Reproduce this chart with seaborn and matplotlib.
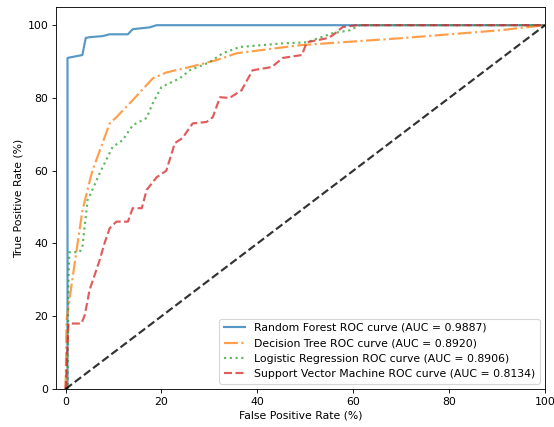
import matplotlib
matplotlib.use("Agg")
import matplotlib.pyplot as plt
import seaborn as sns
import pandas as pd

labels = [
    "Random Forest ROC curve (AUC = 0.9887)",
    "Decision Tree ROC curve (AUC = 0.8920)",
    "Logistic Regression ROC curve (AUC = 0.8906)",
    "Support Vector Machine ROC curve (AUC = 0.8134)",
]

rf_fpr = [0, 0.4, 0.4, 3.5, 4.2, 5, 7.7, 9.2, 13, 14, 17.5, 19, 100]
rf_tpr = [0, 0, 91, 91.8, 96.5, 96.7, 97, 97.5, 97.5, 98.9, 99.4, 100, 100]

dt_fpr = [0, 0.2, 1.9, 3.5, 5, 5.6, 9.2, 10.6, 14, 18.2, 21, 25.9, 31.5, 35.7, 48.9, 69.7, 90.6, 100]
dt_tpr = [0, 19, 34.6, 49, 57, 60, 73, 74.7, 79.4, 85.4, 87, 88.5, 90.4, 92.3, 94.5, 96.4, 98.6, 100]

lr_fpr = [0, 0.4, 0.6, 0.8, 2.9, 3.5, 4.6, 5, 7.1, 9.8, 11.9, 14, 16.9, 18.2, 20, 23.8, 25.9, 30,
          32.8, 36.3, 45.3, 50.3, 55.7, 59.3, 61.4, 100]
lr_tpr = [0, 0, 30.8, 37.6, 37.6, 39, 52, 53, 59.3, 66.5, 68.4, 72.5, 74.5, 78.6, 83, 85.4, 87.6, 89.8,
          92.3, 94, 95, 95.3, 97.8, 98.6, 100, 100]

svm_fpr = [0, 0.6, 3.3, 4, 5, 7.1, 8.1, 9.2, 10.6, 13, 14, 15.9, 16.9, 19, 21, 22.8, 24.4, 26.5, 29.4,
           30.7, 32.2, 34.2, 36.7, 39, 43, 45.3, 49.3, 50.3, 54.5, 55.7, 57.8, 60.8, 100]
svm_tpr = [0, 18, 18, 20.3, 27.2, 35.4, 40, 44.2, 46, 46, 49.7, 49.7, 54.7, 58.2, 60, 67.6, 69, 73, 73.4,
           74.7, 80.2, 80, 82.1, 87.6, 88.5, 91, 91.8, 95.3, 96.4, 97.2, 99.5, 100, 100]

diag = [0, 100]

DPI = 78
fig = plt.figure(figsize=(554 / DPI, 427 / DPI), dpi=DPI)
ax = fig.add_axes([56 / 554, 1 - 389 / 427, (545 - 56) / 554, (389 - 7) / 427])

series = [
    (rf_fpr, rf_tpr, "#1f77b4", "-"),
    (dt_fpr, dt_tpr, "#ff7f0e", "-."),
    (lr_fpr, lr_tpr, "#2ca02c", ":"),
    (svm_fpr, svm_tpr, "#d62728", "--"),
]
for (x, y, c, ls), lab in zip(series, labels):
    df = pd.DataFrame({"fpr": x, "tpr": y})
    sns.lineplot(data=df, x="fpr", y="tpr", sort=False, estimator=None, ax=ax,
                 color=c, linestyle=ls, linewidth=2, alpha=0.75, label=lab)

sns.lineplot(x=diag, y=diag, ax=ax, color="k", linestyle="--", linewidth=2,
             alpha=0.8, estimator=None, sort=False)

ax.set_xlim(-2, 100)
ax.set_ylim(0, 105)
ax.set_xticks([0, 20, 40, 60, 80, 100])
ax.set_yticks([0, 20, 40, 60, 80, 100])
ax.set_xlabel("False Positive Rate (%)")
ax.set_ylabel("True Positive Rate (%)")
ax.legend(loc="lower right", fontsize=10)

fig.savefig("out.png", dpi=DPI)
